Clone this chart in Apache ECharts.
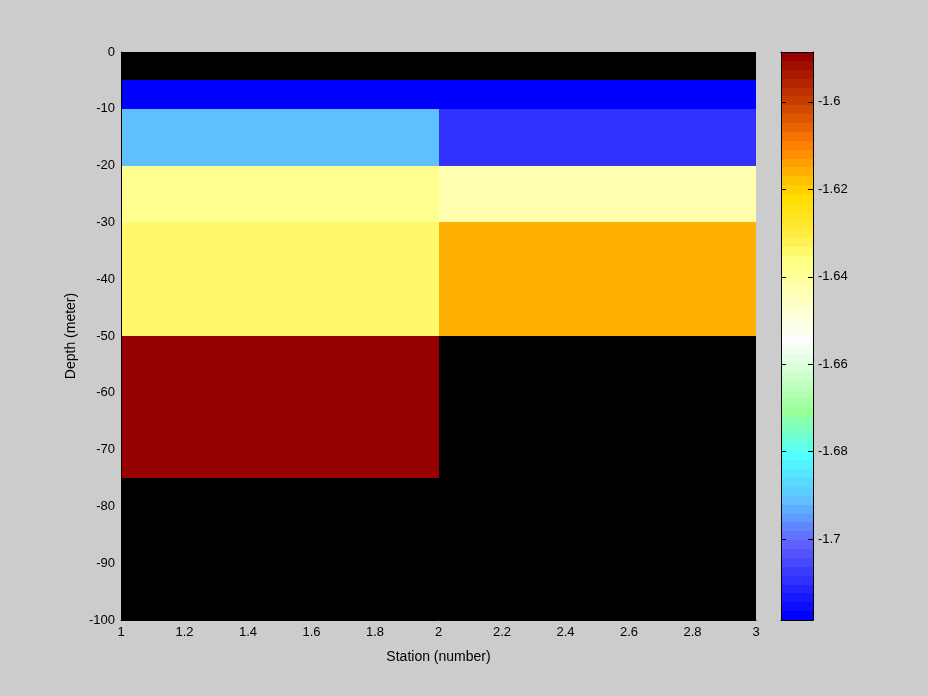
<!DOCTYPE html>
<html>
<head>
<meta charset="utf-8">
<script src="https://cdn.jsdelivr.net/npm/echarts@6/dist/echarts.min.js"></script>
<style>
html,body{margin:0;padding:0;background:#cccccc;}
#chart{width:928px;height:696px;}
</style>
</head>
<body>
<div id="chart"></div>
<script>
// ---- data ----
const stationEdges = [1, 2, 3];
const depthEdges = [0, -5, -10, -20, -30, -50, -75, -100];
// values for each depth layer (rows) and station interval (columns); null = no data
const layerValues = [
  [null, null],
  [-1.718, -1.718],
  [-1.691, -1.709],
  [-1.638, -1.642],
  [-1.634, -1.616],
  [-1.590, null],
  [null, null]
];
const colorMin = -1.7185;
const colorMax = -1.5886;
const colorLevels = 64;

// ---- colormap anchors (band index counted from top, colour) ----
const cmapAnchors = [
  [0, '#960000'], [5, '#c83c00'], [10, '#ff7f00'], [15, '#ffd000'], [16, '#ffdd00'],
  [20, '#ffec40'], [23, '#ffff80'], [25, '#ffffa0'], [32, '#fcfffc'], [36, '#ccffcc'],
  [40, '#99ff99'], [45, '#50ffff'], [50, '#60c0ff'], [55, '#6060ff'], [63, '#0000ff']
];
function hex2rgb(h){return [parseInt(h.substr(1,2),16),parseInt(h.substr(3,2),16),parseInt(h.substr(5,2),16)];}
const paletteTop = [];
for (let b = 0; b < colorLevels; b++) {
  let k = 0;
  while (k < cmapAnchors.length - 2 && cmapAnchors[k+1][0] < b) k++;
  const a = cmapAnchors[k], c = cmapAnchors[k+1];
  const f = (b - a[0]) / (c[0] - a[0]);
  const ra = hex2rgb(a[1]), rc = hex2rgb(c[1]);
  const rgb = ra.map((v, i) => Math.round(v + (rc[i] - v) * Math.max(0, Math.min(1, f))));
  paletteTop.push('rgb(' + rgb.join(',') + ')');
}
function colorOf(v){
  let b = Math.floor((colorMax - v) / (colorMax - colorMin) * colorLevels);
  b = Math.max(0, Math.min(colorLevels - 1, b));
  return paletteTop[b];
}

// ---- build cell data ----
const cells = [];
for (let r = 0; r < layerValues.length; r++) {
  for (let c = 0; c < stationEdges.length - 1; c++) {
    const v = layerValues[r][c];
    if (v === null) continue;
    cells.push([stationEdges[c], stationEdges[c+1], depthEdges[r+1], depthEdges[r], v]);
  }
}
const bands = [];
const step = (colorMax - colorMin) / colorLevels;
for (let b = 0; b < colorLevels; b++) {
  bands.push([colorMax - (b+1)*step, colorMax - b*step, b]);
}

function rectOf(api, x0, x1, yLow, yHigh){
  const p0 = api.coord([x0, yHigh]);
  const p1 = api.coord([x1, yLow]);
  const L = Math.round(p0[0]), R = Math.round(p1[0]);
  const T = Math.round(p0[1]), B = Math.round(p1[1]);
  return {x: L, y: T, width: R - L, height: B - T};
}

const FONT = 'Liberation Sans';
const chart = echarts.init(document.getElementById('chart'));
chart.setOption({
  backgroundColor: '#cccccc',
  animation: false,
  textStyle: {fontFamily: FONT},
  grid: [
    {left: 121, top: 52, width: 635, height: 568, show: true, backgroundColor: '#000000', borderWidth: 0},
    {left: 781, top: 52, width: 32, height: 568, show: false}
  ],
  xAxis: [
    {gridIndex: 0, type: 'value', min: 1, max: 3, interval: 0.2, z: 10,
     name: 'Station (number)', nameLocation: 'middle', nameGap: 30,
     nameTextStyle: {color: '#000', fontSize: 14, fontFamily: FONT},
     axisLine: {show: true, onZero: false, lineStyle: {color: '#000'}},
     axisTick: {show: false},
     axisLabel: {color: '#000', fontSize: 13, fontFamily: FONT, margin: 6},
     splitLine: {show: false}},
    {gridIndex: 1, type: 'value', min: 0, max: 1, position: 'bottom', z: 10,
     axisLine: {show: true, onZero: false, lineStyle: {color: '#000'}},
     axisTick: {show: false}, axisLabel: {show: false}, splitLine: {show: false}},
    {gridIndex: 1, type: 'value', min: 0, max: 1, position: 'top', z: 10,
     axisLine: {show: true, onZero: false, lineStyle: {color: '#000'}},
     axisTick: {show: false}, axisLabel: {show: false}, splitLine: {show: false}}
  ],
  yAxis: [
    {gridIndex: 0, type: 'value', min: -100, max: 0, interval: 10, z: 10,
     name: 'Depth (meter)', nameLocation: 'middle', nameGap: 39, nameRotate: 90,
     nameTextStyle: {color: '#000', fontSize: 14, fontFamily: FONT},
     axisLine: {show: true, onZero: false, lineStyle: {color: '#000'}},
     axisTick: {show: false},
     axisLabel: {color: '#000', fontSize: 13, fontFamily: FONT, margin: 6},
     splitLine: {show: false}},
    {gridIndex: 1, type: 'value', min: colorMin, max: colorMax, splitNumber: 6, position: 'right', z: 10,
     axisLine: {show: true, onZero: false, lineStyle: {color: '#000'}},
     axisTick: {show: true, inside: true, length: 5, lineStyle: {color: '#000'}},
     axisLabel: {color: '#000', fontSize: 13, fontFamily: FONT, margin: 5, showMinLabel: false, showMaxLabel: false},
     splitLine: {show: false}},
    {gridIndex: 1, type: 'value', min: colorMin, max: colorMax, splitNumber: 6, position: 'left', z: 10,
     axisLine: {show: true, onZero: false, lineStyle: {color: '#000'}},
     axisTick: {show: true, inside: true, length: 5, lineStyle: {color: '#000'}},
     axisLabel: {show: false},
     splitLine: {show: false}}
  ],
  series: [
    {type: 'custom', xAxisIndex: 0, yAxisIndex: 0, data: cells, clip: true, z: 2,
     renderItem: function(params, api){
       return {type: 'rect', shape: rectOf(api, api.value(0), api.value(1), api.value(2), api.value(3)),
               style: {fill: colorOf(api.value(4))}};
     }},
    {type: 'custom', xAxisIndex: 1, yAxisIndex: 1, data: bands, clip: true, z: 2,
     renderItem: function(params, api){
       return {type: 'rect', shape: rectOf(api, 0, 1, api.value(0), api.value(1)),
               style: {fill: paletteTop[api.value(2)]}};
     }}
  ]
});
</script>
</body>
</html>
